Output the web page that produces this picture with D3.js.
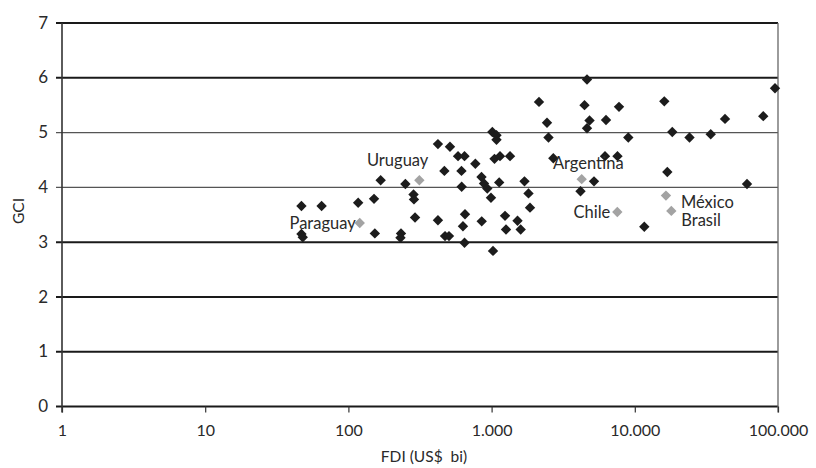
<!DOCTYPE html>
<html>
<head>
<meta charset="utf-8">
<script src="https://cdn.jsdelivr.net/npm/d3@7"></script>
<style>
  body { margin: 0; background: #fff; }
  text { font-family: Lato, "Open Sans", sans-serif; fill: #2a2a2a; }
</style>
</head>
<body>
<div id="chart"></div>
<script>
// other countries (black)
const fdi = [47, 65, 47, 48, 117, 151, 168, 153, 233, 231, 250, 285, 287, 292,
  422, 512, 468, 422, 473, 504, 583, 647, 616, 618, 652, 631, 647, 770, 850, 885,
  933, 990, 853, 1023, 1012, 1082, 1082, 1048, 1145, 1345, 1130, 1241, 1261, 1517,
  1596, 1697, 1810, 1854, 2143, 2437, 2496, 2698, 4637, 4455, 7757, 4829, 4637,
  6295, 9008, 6194, 7569, 5190, 4177, 11650, 16070, 18270, 24100, 33900, 42660,
  78900, 95300, 16870, 60760];
const gci = [3.66, 3.66, 3.15, 3.09, 3.72, 3.79, 4.13, 3.16, 3.16, 3.08, 4.06, 3.87, 3.78, 3.45,
  4.79, 4.74, 4.30, 3.40, 3.11, 3.11, 4.57, 4.57, 4.30, 4.01, 3.51, 3.29, 2.99, 4.43, 4.19, 4.07,
  3.98, 3.81, 3.38, 2.84, 5.01, 4.95, 4.87, 4.52, 4.57, 4.57, 4.09, 3.48, 3.23, 3.39,
  3.23, 4.11, 3.89, 3.63, 5.56, 5.18, 4.91, 4.53, 5.97, 5.50, 5.47, 5.22, 5.08,
  5.23, 4.91, 4.57, 4.57, 4.11, 3.93, 3.28, 5.57, 5.01, 4.91, 4.97, 5.25,
  5.30, 5.81, 4.28, 4.06];

// highlighted Latin American countries (grey)
const countries = ["Paraguay", "Uruguay", "Argentina", "Chile", "México", "Brasil"];
const countryFdi = [120, 313, 4257, 7550, 16500, 17990];
const countryGci = [3.35, 4.13, 4.15, 3.55, 3.85, 3.57];

const xTicks = [1, 10, 100, 1000, 10000, 100000];
const yTicks = [0, 1, 2, 3, 4, 5, 6, 7];

const WIDTH = 816, HEIGHT = 468;
const margin = { top: 23, right: 38, bottom: 61.5, left: 62 };

// label placement (offset from the point, text-anchor)
const labelPos = {
  "Paraguay":  { dx: -4,  dy: 6,   anchor: "end" },
  "Uruguay":   { dx: 9,   dy: -14, anchor: "end" },
  "Argentina": { dx: 42,  dy: -10, anchor: "end" },
  "Chile":     { dx: -7,  dy: 6,   anchor: "end" },
  "México":    { dx: 15,  dy: 12,  anchor: "start" },
  "Brasil":    { dx: 10,  dy: 15,  anchor: "start" }
};

const svg = d3.select("#chart").append("svg")
  .attr("width", WIDTH)
  .attr("height", HEIGHT);

const x = d3.scaleLog()
  .domain([1, 100000])
  .range([margin.left, WIDTH - margin.right]);
const y = d3.scaleLinear()
  .domain([0, 7])
  .range([HEIGHT - margin.bottom, margin.top]);

const fmt = d3.formatLocale({ decimal: ",", thousands: ".", grouping: [3], currency: ["", ""] }).format(",d");

// gridlines (5 and 4 lighter like in the original)
svg.append("g")
  .selectAll("line")
  .data(yTicks)
  .join("line")
    .attr("x1", margin.left - 6)
    .attr("x2", WIDTH - margin.right)
    .attr("y1", d => y(d))
    .attr("y2", d => y(d))
    .attr("stroke", d => (d === 4 || d === 5) ? "#555" : "#1a1a1a")
    .attr("stroke-width", d => (d === 4 || d === 5) ? 1.3 : 2);

// y axis
const yAxis = svg.append("g")
  .attr("transform", `translate(${margin.left},0)`)
  .call(d3.axisLeft(y).tickValues(yTicks).tickFormat(d3.format("d")).tickSize(0).tickPadding(14));
yAxis.select(".domain").remove();
yAxis.selectAll("text").style("font-size", "17px").attr("dy", "0.3em");

// left axis line and right border
svg.append("line")
  .attr("x1", margin.left).attr("x2", margin.left)
  .attr("y1", margin.top).attr("y2", y(0) + 6)
  .attr("stroke", "#333").attr("stroke-width", 1.6);
svg.append("line")
  .attr("x1", WIDTH - margin.right).attr("x2", WIDTH - margin.right)
  .attr("y1", margin.top).attr("y2", y(0) + 6)
  .attr("stroke", "#666").attr("stroke-width", 1.3);

// x axis
const xAxis = svg.append("g")
  .attr("transform", `translate(0,${y(0)})`)
  .call(d3.axisBottom(x).tickValues(xTicks).tickFormat(fmt).tickSize(6).tickPadding(12));
xAxis.select(".domain").remove();
xAxis.selectAll(".tick line").attr("stroke", "#333").attr("stroke-width", 1.2);
xAxis.selectAll("text").style("font-size", "16px");

// axis titles
svg.append("text")
  .attr("x", 424).attr("y", 462)
  .attr("text-anchor", "middle")
  .style("font-size", "15.5px")
  .style("white-space", "pre")
  .text("FDI (US$  bi)");

svg.append("text")
  .attr("transform", "translate(24,211) rotate(-90)")
  .attr("text-anchor", "middle")
  .style("font-size", "15.5px")
  .text("GCI");

// diamonds
const diamond = d3.symbol().type(d3.symbolSquare).size(54);

svg.append("g")
  .selectAll("path")
  .data(fdi.map((d, i) => ({ fdi: d, gci: gci[i] })))
  .join("path")
    .attr("d", diamond)
    .attr("transform", d => `translate(${x(d.fdi)},${y(d.gci)}) rotate(45)`)
    .attr("fill", "#1c1c1c");

const highlight = countries.map((c, i) => ({ name: c, fdi: countryFdi[i], gci: countryGci[i] }));

svg.append("g")
  .selectAll("path")
  .data(highlight)
  .join("path")
    .attr("d", diamond)
    .attr("transform", d => `translate(${x(d.fdi)},${y(d.gci)}) rotate(45)`)
    .attr("fill", "#a3a3a3");

svg.append("g")
  .selectAll("text")
  .data(highlight)
  .join("text")
    .attr("x", d => x(d.fdi) + labelPos[d.name].dx)
    .attr("y", d => y(d.gci) + labelPos[d.name].dy)
    .attr("text-anchor", d => labelPos[d.name].anchor)
    .style("font-size", "16.5px")
    .text(d => d.name);
</script>
</body>
</html>
